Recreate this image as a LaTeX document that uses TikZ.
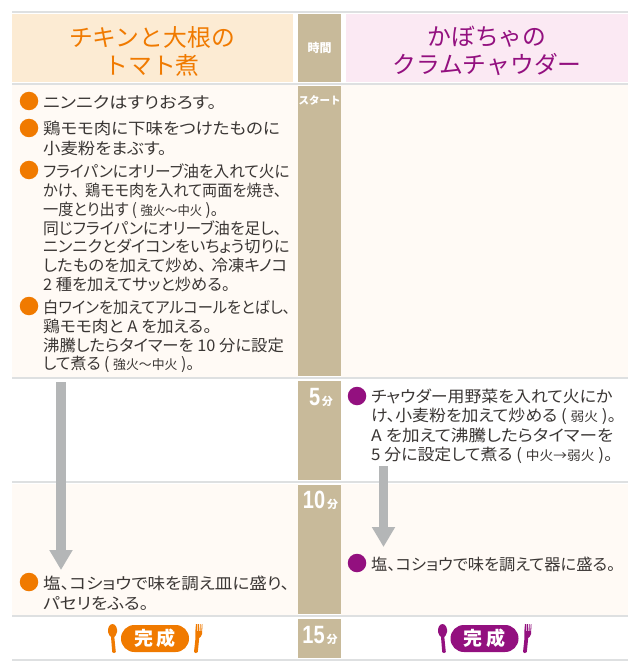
\documentclass[tikz,border=0pt]{standalone}
\usepackage{fontspec}
\usepackage{graphicx}
\setmainfont{Noto Sans CJK JP}
\newfontfamily\tightfont[RawFeature=+palt]{Noto Sans CJK JP}
\newfontfamily\numfont{Liberation Sans}
\usetikzlibrary{arrows.meta}
\definecolor{ora}{HTML}{F07A00}
\definecolor{pur}{HTML}{93107F}
\definecolor{horabg}{HTML}{FCEBD3}
\definecolor{hpurbg}{HTML}{FBE9F3}
\definecolor{timec}{HTML}{C8BA9A}
\definecolor{cream}{HTML}{FFFAF5}
\definecolor{rulec}{HTML}{DEE0E1}
\definecolor{arrc}{HTML}{B4B6B7}
\definecolor{txt}{HTML}{3A3634}
\newcommand{\sm}[1]{{\normalfont\fontsize{13}{19}\selectfont #1}}
\newcommand{\fl}[2]{\scalebox{#1}[1]{#2}}
\newcommand{\tnum}[2]{\scalebox{.8}[1]{\numfont\bfseries\fontsize{25}{25}\selectfont #1}{\fontsize{11}{11}\selectfont\,#2}}
\tikzset{
  band/.style={fill=#1,draw=none},
  hrule/.style={draw=rulec,line width=1.2pt},
  bullet/.style={circle,fill=#1,draw=none,minimum size=18.5pt,inner sep=0pt},
  step text/.style={anchor=north west,inner sep=0pt,align=left,text=txt,font=\tightfont\fontsize{16}{#1}\selectfont},
  step text/.default=19.2,
  title text/.style={inner sep=0pt,align=center,text=#1,font=\fontsize{23.8}{28}\selectfont},
  time text/.style={inner sep=0pt,text=white,font=\bfseries\fontsize{#1}{#1}\selectfont},
  flow arrow/.style={draw=arrc,line width=9.5pt,-{Triangle[length=20pt,width=22pt]}},
  pill/.style={rounded corners=13.4pt,draw=none,fill=#1,minimum width=68pt,minimum height=27pt,inner sep=0pt,text=white,font=\bfseries\fontsize{19}{19}\selectfont},
}
\newcommand{\spoon}[3]{% x, y top, colour
  \fill[#3] (#1+4.5,#2) .. controls (#1+8,#2) and (#1+9.5,#2+5) .. (#1+9,#2+8)
    .. controls (#1+8.5,#2+11) and (#1+7,#2+12) .. (#1+6.3,#2+13)
    -- (#1+7.8,#2+28) .. controls (#1+7.8,#2+29.5) and (#1+4.2,#2+29.5) .. (#1+4.2,#2+28)
    -- (#1+3,#2+13) .. controls (#1+2,#2+12) and (#1+.5,#2+11) .. (#1,#2+8)
    .. controls (#1-.5,#2+5) and (#1+1,#2) .. (#1+4.5,#2) -- cycle;}
\newcommand{\fork}[3]{% x, y top, colour
  \fill[#3] (#1+2,#2) -- (#1+3,#2) -- (#1+3,#2+7) -- (#1+3.8,#2+7) -- (#1+4,#2) -- (#1+4.8,#2) -- (#1+4.8,#2+7)
    -- (#1+5.6,#2+7) -- (#1+5.9,#2) -- (#1+6.6,#2) -- (#1+6.6,#2+7) -- (#1+7.3,#2+7) -- (#1+7.8,#2) -- (#1+8.5,#2)
    -- (#1+8,#2+10) .. controls (#1+7.6,#2+12.5) and (#1+6,#2+13) .. (#1+5.2,#2+14)
    -- (#1+3.8,#2+28) .. controls (#1+3.5,#2+29.5) and (#1,#2+29.5) .. (#1,#2+28)
    -- (#1+1.5,#2+14) .. controls (#1+1.2,#2+12) and (#1+1,#2+10) .. (#1+2,#2) -- cycle;}
\begin{document}
\begin{tikzpicture}[x=1pt,y=-1pt]
\useasboundingbox (0,0) rectangle (640,671);
\fill[white] (0,0) rectangle (640,671);
\fill[band=horabg] (12,14) rectangle (293,82);
\fill[band=hpurbg] (346,14) rectangle (628,82);
\fill[band=cream] (12,85) rectangle (298,377);
\fill[band=cream] (341,85) rectangle (628,377);
\fill[band=cream] (12,484) rectangle (298,615);
\fill[band=cream] (341,484) rectangle (628,615);
\foreach \yy in {12,84,378,482,616,660} \draw[hrule] (12,\yy) -- (628,\yy);
\fill[band=timec] (298,14) rectangle (341,82);
\fill[band=timec] (298,86) rectangle (341,376);
\fill[band=timec] (298,381) rectangle (341,480);
\fill[band=timec] (298,485) rectangle (341,614);
\fill[band=timec] (298,619) rectangle (341,658);
\node[title text=ora] (tl) at (152,51) {チキンと大根の\\トマト煮};
\node[title text=pur] (tr) at (487,51) {かぼちゃの\\クラムチャウダー};
\node[time text=12] (t0) at (319.5,48) {時間};
\node[time text=10.5] (t1) at (319.5,100) {スタート};
\node[time text=12,anchor=base] (t2) at (321,405) {\tnum{5}{分}};
\node[time text=12,anchor=base] (t3) at (320.5,508) {\tnum{10}{分}};
\node[time text=12,anchor=base] (t4) at (320,643) {\tnum{15}{分}};
\node[bullet=ora] (b1) at (29,101) {};
\node[bullet=ora] (b2) at (29,128) {};
\node[bullet=ora] (b3) at (29,170) {};
\node[bullet=ora] (b4) at (29,306) {};
\node[bullet=ora] (b5) at (29,582) {};
\node[bullet=pur] (b6) at (357,396) {};
\node[bullet=pur] (b7) at (357,563) {};
\node[step text] (s1) at (43,95) {\fl{1.138}{ニンニクはすりおろす。}};
\node[step text=20] (s2) at (43,121) {\fl{1.093}{鶏モモ肉に下味をつけたものに}\\\fl{1.086}{小麦粉をまぶす。}};
\node[step text=18.7] (s3) at (43,164) {\fl{.98}{フライパンにオリーブ油を入れて火に}\\\fl{.948}{かけ、\kern6pt 鶏モモ肉を入れて両面を焼き、}\\\fl{.95}{一度とり出す ( \sm{強火〜中火} )。}\\\fl{.988}{同じフライパンにオリーブ油を足し、}\\\fl{1.012}{ニンニクとダイコンをいちょう切りに}\\\fl{1.03}{したものを加えて炒め、\kern5pt 冷凍キノコ}\\\fl{1.017}{2 種を加えてサッと炒める。}};
\node[step text=18.7] (s4) at (43,300) {\fl{.953}{白ワインを加えてアルコールをとばし、}\\\fl{1.05}{鶏モモ肉と A を加える。}\\\fl{1.02}{沸騰したらタイマーを 10 分に設定}\\\fl{.99}{して煮る ( \sm{強火〜中火} )。}};
\node[step text=20] (s5) at (43,576) {\fl{1.098}{塩、コショウで味を調え皿に盛り、}\\\fl{1.105}{パセリをふる。}};
\node[step text] (s6) at (371,389) {\fl{1.057}{チャウダー用野菜を入れて火にか}\\\fl{1.056}{け、小麦粉を加えて炒める ( \sm{弱火} )。}\\\fl{1.10}{A を加えて沸騰したらタイマーを}\\\fl{1.056}{5 分に設定して煮る ( \sm{中火→弱火} )。}};
\node[step text] (s7) at (371,557) {\fl{1.017}{塩、コショウで味を調えて器に盛る。}};
\coordinate (a1) at (61,382); \coordinate (a2) at (61,570);
\coordinate (a3) at (383.5,466); \coordinate (a4) at (383.5,547);
\draw[flow arrow] (a1) -- (a2);
\draw[flow arrow] (a3) -- (a4);
\node[pill=ora] (dl) at (155,638.5) {完\,成};
\node[pill=pur] (dr) at (484.5,638.5) {完\,成};
\spoon{108}{624}{ora}
\fork{194}{624}{ora}
\spoon{438}{624}{pur}
\fork{523}{624}{pur}
\end{tikzpicture}
\end{document}
